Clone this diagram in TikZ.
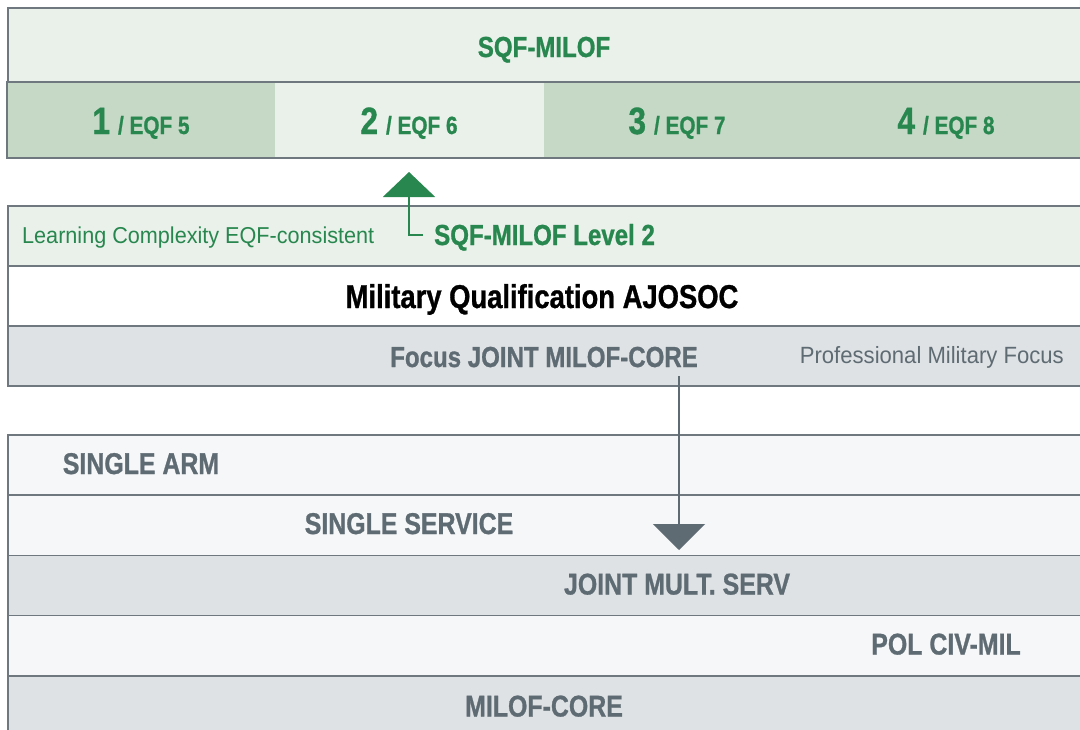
\documentclass[tikz,border=0pt]{standalone}
\usepackage{fontspec}
\setmainfont{Liberation Sans}
\newfontfamily\condbold[FakeStretch=0.83, FakeBold=0.9]{Liberation Sans}
\newfontfamily\condreg[FakeStretch=0.94]{Liberation Sans}
\usetikzlibrary{arrows.meta}

\definecolor{milgreen}{RGB}{40,135,78}
\definecolor{greenpale}{RGB}{233,241,234}
\definecolor{greenmid}{RGB}{197,217,198}
\definecolor{rowgray}{RGB}{222,226,229}
\definecolor{rowlight}{RGB}{245,247,248}
\definecolor{inkgray}{RGB}{95,107,115}
\definecolor{rule}{RGB}{110,120,126}

\tikzset{
  band/.style={draw=rule, line width=1.5pt, rectangle, inner sep=0pt, anchor=north west, minimum width=1090pt},
  cell/.style={rectangle, inner sep=0pt, anchor=north west, minimum height=76pt},
  lbl/.style={inner sep=0pt, anchor=base},
  head/.style={lbl, font=\condbold\bfseries\fontsize{29}{29}\selectfont},
  rowtext/.style={lbl, text=inkgray, font=\condbold\bfseries\fontsize{30}{30}\selectfont},
  lvl/.style={lbl, text=milgreen, font=\condbold\bfseries},
  link/.style={line width=2.4pt},
}

\newcommand{\lvlmark}[2]{{\fontsize{38}{38}\selectfont #1}\hspace{8pt}{\fontsize{25}{25}\selectfont / EQF #2}}

\begin{document}
\begin{tikzpicture}[x=1pt,y=-1pt]
\useasboundingbox (0,0) rectangle (1080,729);
\clip (0,0) rectangle (1080,729);

% ---- SQF-MILOF level scale ----
\node[band, fill=greenpale, minimum height=75pt] (sqf) at (7,7) {};
\node[cell, fill=greenmid, minimum width=268pt] (c1) at (7,82) {};
\node[cell, fill=greenpale, minimum width=269pt] (c2) at (275,82) {};
\node[cell, fill=greenmid, minimum width=268pt] (c3) at (544,82) {};
\node[cell, fill=greenmid, minimum width=280pt] (c4) at (812,82) {};
\draw[draw=rule, line width=1.5pt] (1090,82) -- (7,82) -- (7,158) -- (1090,158);

\node[head, text=milgreen] (sqftitle) at (544,57) {SQF-MILOF};
\node[lvl] (l1) at (141,134) {\lvlmark{1}{5}};
\node[lvl] (l2) at (409,134) {\lvlmark{2}{6}};
\node[lvl] (l3) at (677,134) {\lvlmark{3}{7}};
\node[lvl] (l4) at (946,134) {\lvlmark{4}{8}};

% ---- qualification block ----
\node[band, fill=greenpale, minimum height=60pt] (cmplx) at (7,205) {};
\node[band, fill=white, minimum height=60pt] (qual) at (7,265) {};
\node[band, fill=rowgray, minimum height=60pt] (focus) at (7,325) {};

\node[lbl, anchor=base west, text=milgreen, font=\condreg\fontsize{23}{23}\selectfont] (cmplxtxt) at (22,243) {Learning Complexity EQF-consistent};
\node[head, anchor=base west, text=milgreen] (lvltxt) at (434,245) {SQF-MILOF Level 2};
\node[lbl, font=\condbold\bfseries\fontsize{33}{33}\selectfont, text=black] (qualtxt) at (542,308) {Military Qualification AJOSOC};
\node[head, text=inkgray] (focustxt) at (544,367) {Focus JOINT MILOF-CORE};
\node[lbl, anchor=base east, text=inkgray, font=\condreg\fontsize{23.5}{23.5}\selectfont] (proftxt) at (1064,363) {Professional Military Focus};

% ---- focus layers ----
\node[band, fill=rowlight, minimum height=60.25pt] (arm) at (7,434) {};
\node[band, fill=rowlight, minimum height=60.25pt] (svc) at (7,494.25) {};
\node[band, fill=rowgray, minimum height=60.25pt] (jnt) at (7,554.5) {};
\node[band, fill=rowlight, minimum height=60.25pt] (pol) at (7,614.75) {};
\node[band, fill=rowgray, minimum height=70pt] (core) at (7,675) {};

\node[rowtext] (armtxt) at (141,474) {SINGLE ARM};
\node[rowtext] (svctxt) at (409,534) {SINGLE SERVICE};
\node[rowtext] (jnttxt) at (677,594.5) {JOINT MULT. SERV};
\node[rowtext] (poltxt) at (946,654.5) {POL CIV-MIL};
\node[rowtext] (coretxt) at (544,716.5) {MILOF-CORE};

% ---- connectors ----
\coordinate (gstart) at (423,235);
\coordinate (gcorner) at (409,235);
\coordinate (gtip) at (409,172);
\draw[link, draw=milgreen, -{Triangle[length=25pt, width=52pt]}] (gstart) -- (gcorner) -- (gtip);

\coordinate (fstart) at (679,376);
\coordinate (ftip) at (679,550);
\draw[link, draw=inkgray, -{Triangle[length=26pt, width=52pt]}] (fstart) -- (ftip);
\end{tikzpicture}
\end{document}
